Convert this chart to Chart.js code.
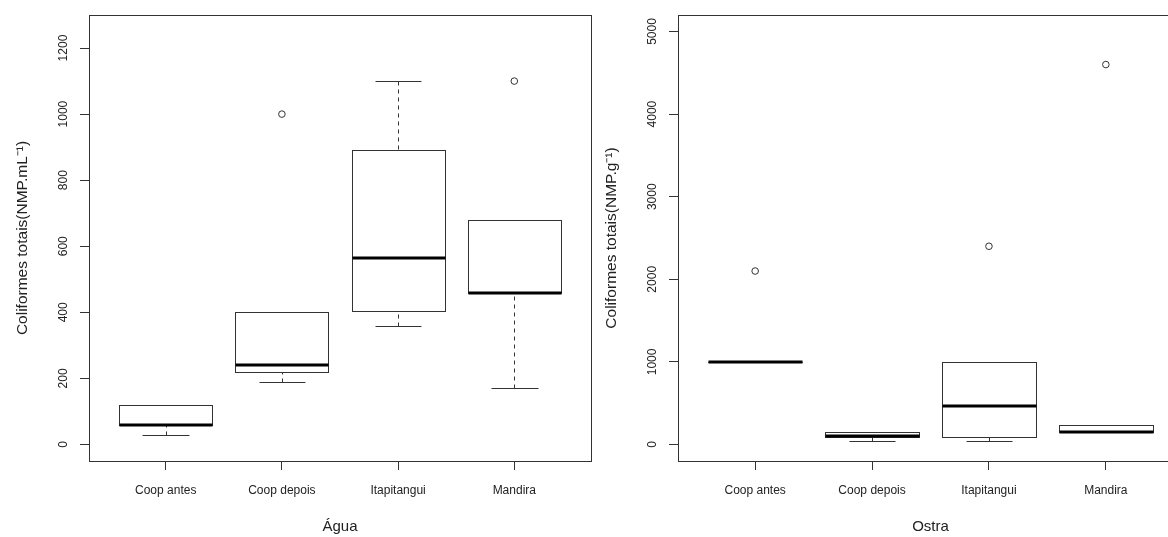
<!DOCTYPE html>
<html>
<head>
<meta charset="utf-8">
<script src="https://cdn.jsdelivr.net/npm/chart.js@4/dist/chart.umd.min.js"></script>
<style>
  html, body { margin: 0; padding: 0; background: #fff; overflow: hidden; }
  #wrap { position: relative; width: 1168px; height: 537px; overflow: hidden; }
  canvas { position: absolute; top: 0; }
</style>
</head>
<body>
<div id="wrap">
  <canvas id="agua" width="596" height="537" style="left:0"></canvas>
  <canvas id="ostra" width="600" height="537" style="left:589px"></canvas>
</div>
<script>
// categories (same for both panels)
const sites = ['Coop antes', 'Coop depois', 'Itapitangui', 'Mandira'];

// Água — NMP.mL-1 (five-number summaries)
const aguaMin = [30, 190, 360, 170];
const aguaQ1  = [60, 220, 405, 460];
const aguaMed = [60, 240, 565, 460];
const aguaQ3  = [120, 400, 890, 680];
const aguaMax = [120, 400, 1100, 680];
const aguaOutX = [2, 4];
const aguaOutY = [1000, 1100];
const aguaTicks = [0, 200, 400, 600, 800, 1000, 1200];

// Ostra — NMP.g-1
const ostraMin = [1000, 43, 40, 150];
const ostraQ1  = [1000, 93, 93, 150];
const ostraMed = [1000, 100, 460, 150];
const ostraQ3  = [1000, 150, 1000, 240];
const ostraMax = [1000, 150, 1000, 240];
const ostraOutX = [1, 3, 4];
const ostraOutY = [2100, 2400, 4600];
const ostraTicks = [0, 1000, 2000, 3000, 4000, 5000];

Chart.defaults.font.family = '"Liberation Sans", Arial, sans-serif';
Chart.defaults.color = '#222';

// draws the R-style boxes (frame, whiskers, staples, box, median) from the scales
function boxPlugin(st) {
  return {
    id: 'rbox',
    beforeDatasetsDraw(chart) {
      const { ctx, chartArea: a, scales: { x, y } } = chart;
      const px = v => Math.round(v) + 0.5;
      const py = v => Math.round(y.getPixelForValue(v)) + 0.5;
      ctx.save();
      ctx.strokeStyle = '#333';
      ctx.lineWidth = 1;
      ctx.strokeRect(px(a.left), px(a.top), Math.round(a.right - a.left), Math.round(a.bottom - a.top));

      st.med.forEach((m, i) => {
        const cx = x.getPixelForValue(i + 1);
        const hw = x.getPixelForValue(i + 1.4) - cx;
        const cw = hw / 2;
        ctx.strokeStyle = '#333';
        ctx.lineWidth = 1;
        // whiskers
        ctx.setLineDash([4, 4]);
        ctx.beginPath();
        if (st.max[i] > st.q3[i]) { ctx.moveTo(px(cx), py(st.max[i])); ctx.lineTo(px(cx), py(st.q3[i])); }
        if (st.min[i] < st.q1[i]) { ctx.moveTo(px(cx), py(st.min[i])); ctx.lineTo(px(cx), py(st.q1[i])); }
        ctx.stroke();
        ctx.setLineDash([]);
        // staples
        ctx.beginPath();
        ctx.moveTo(px(cx - cw), py(st.max[i])); ctx.lineTo(px(cx + cw), py(st.max[i]));
        ctx.moveTo(px(cx - cw), py(st.min[i])); ctx.lineTo(px(cx + cw), py(st.min[i]));
        ctx.stroke();
        // box
        const top = py(st.q3[i]), bot = py(st.q1[i]);
        ctx.fillStyle = '#fff';
        ctx.fillRect(px(cx - hw), top, Math.round(2 * hw), bot - top);
        ctx.strokeRect(px(cx - hw), top, Math.round(2 * hw), bot - top);
        // median
        ctx.strokeStyle = '#000';
        ctx.lineWidth = 3;
        const my = Math.round(y.getPixelForValue(m));
        ctx.beginPath();
        ctx.moveTo(px(cx - hw), my); ctx.lineTo(px(cx + hw), my);
        ctx.stroke();
      });
      ctx.restore();
    }
  };
}

function makePanel(id, st, outX, outY, yTicks, yMin, yMax, xTitle, yTitle, padRight) {
  const tickFont = { size: 12 };
  return new Chart(document.getElementById(id), {
    type: 'scatter',
    data: {
      datasets: [{
        data: outX.map((v, i) => ({ x: v, y: outY[i] })),
        pointRadius: 3.3,
        pointBorderWidth: 1,
        borderColor: '#333',
        backgroundColor: '#fff',
      }],
    },
    options: {
      responsive: false,
      animation: false,
      layout: { padding: { top: 15, right: padRight, left: 0, bottom: 0 } },
      plugins: { legend: { display: false }, tooltip: { enabled: false } },
      scales: {
        x: {
          type: 'linear', min: 0.34, max: 4.66,
          afterBuildTicks: s => { s.ticks = [1, 2, 3, 4].map(v => ({ value: v })); },
          afterFit: s => { s.height = 76; },
          ticks: { autoSkip: false, maxRotation: 0, padding: 13, color: '#222', font: tickFont,
                   callback: v => sites[v - 1] },
          grid: { drawOnChartArea: false, drawTicks: true, tickLength: 9, color: '#333' },
          border: { display: false },
          title: { display: true, text: xTitle, color: '#222', font: { size: 15 }, padding: { top: 0, bottom: 1 } },
        },
        y: {
          min: yMin, max: yMax,
          afterBuildTicks: s => { s.ticks = yTicks.map(v => ({ value: v })); },
          afterFit: s => { s.width = 89; },
          ticks: { minRotation: 90, maxRotation: 90, crossAlign: 'center', padding: 3, color: '#222', font: tickFont,
                   callback: v => String(v) },
          grid: { drawOnChartArea: false, drawTicks: true, tickLength: 9, color: '#333' },
          border: { display: false },
          title: { display: true, text: yTitle, color: '#222', font: { size: 15.5 }, padding: { top: 13, bottom: 0 } },
        },
      },
    },
    plugins: [boxPlugin(st)],
  });
}

makePanel('agua',
  { min: aguaMin, q1: aguaQ1, med: aguaMed, q3: aguaQ3, max: aguaMax },
  aguaOutX, aguaOutY, aguaTicks, -50, 1300, 'Água', 'Coliformes totais(NMP.mL⁻¹)', 5);

makePanel('ostra',
  { min: ostraMin, q1: ostraQ1, med: ostraMed, q3: ostraQ3, max: ostraMax },
  ostraOutX, ostraOutY, ostraTicks, -200, 5200, 'Ostra', 'Coliformes totais(NMP.g⁻¹)', 6);
</script>
</body>
</html>
